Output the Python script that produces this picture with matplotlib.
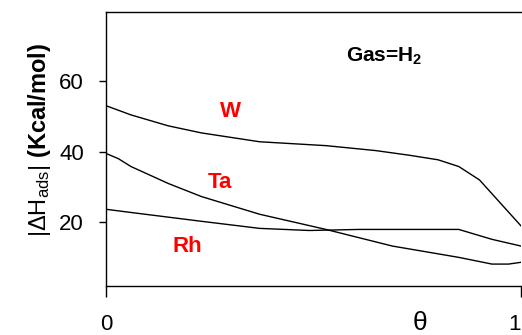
import matplotlib
matplotlib.use("Agg")
import matplotlib.pyplot as plt

plt.rcParams['font.family'] = 'Liberation Sans'
plt.rcParams['mathtext.fontset'] = 'custom'
plt.rcParams['mathtext.rm'] = 'Liberation Sans'
plt.rcParams['mathtext.it'] = 'Liberation Sans:italic'
plt.rcParams['mathtext.bf'] = 'Liberation Sans:bold'

# coverage theta and |dH_ads|
theta_w = [0.0, 0.06, 0.15, 0.23, 0.37, 0.53, 0.65, 0.73, 0.80, 0.85, 0.90, 0.95, 1.0]
dh_w = [53.0, 50.4, 47.3, 45.3, 42.8, 41.7, 40.3, 39.0, 37.7, 35.8, 32.0, 25.5, 19.0]

theta_ta = [0.0, 0.03, 0.06, 0.15, 0.23, 0.37, 0.53, 0.69, 0.85, 0.93, 0.97, 1.0]
dh_ta = [39.5, 38.0, 35.8, 31.0, 27.3, 22.3, 18.0, 13.3, 10.1, 8.2, 8.2, 8.7]

theta_rh = [0.0, 0.06, 0.23, 0.37, 0.49, 0.61, 0.75, 0.85, 0.93, 1.0]
dh_rh = [23.7, 22.8, 20.3, 18.3, 17.7, 18.0, 18.0, 18.0, 15.2, 13.3]

metal_labels = ['W', 'Ta', 'Rh']
label_pos = [(0.30, 51.3), (0.275, 31.3), (0.196, 13.2)]

W, H = 522, 335
fig = plt.figure(figsize=(W / 100, H / 100), dpi=100)
ax = fig.add_axes([106 / W, (H - 286) / H, 415 / W, 274 / H])

for th, dh in [(theta_w, dh_w), (theta_ta, dh_ta), (theta_rh, dh_rh)]:
    ax.plot(th, dh, color='black', lw=1.0)

for name, (tx, ty) in zip(metal_labels, label_pos):
    ax.text(tx, ty, name, color='red', fontsize=16, fontweight='bold',
            ha='center', va='center')

ax.text(0.67, 67, r'Gas=H$_\mathbf{2}$', fontsize=15, fontweight='bold',
        ha='center', va='center')

ax.set_xlim(0, 1)
ax.set_ylim(2, 79.5)
ax.set_yticks([20, 40, 60])
ax.tick_params(axis='y', direction='out', length=5, width=1, pad=11, labelsize=16)
ax.set_xticks([0, 1])
ax.set_xticklabels(['0', '1'])
ax.tick_params(axis='x', direction='out', length=8, width=1, pad=12, labelsize=16)
# last label sits at the right edge of the picture
ax.get_xticklabels()[-1].set_horizontalalignment('right')
ax.spines['right'].set_visible(False)
for s in ['left', 'top', 'bottom']:
    ax.spines[s].set_linewidth(1.0)

fig.text(420 / W, 1 - 323 / H, 'θ', fontsize=19, ha='center', va='center')
fig.text(40 / W, 1 - 140 / H, r'$|\Delta\mathrm{H}_{\mathrm{ads}}|\ \mathbf{(Kcal/mol)}$',
         fontsize=17, rotation=90, ha='center', va='center')

fig.savefig('out.png', dpi=100)
